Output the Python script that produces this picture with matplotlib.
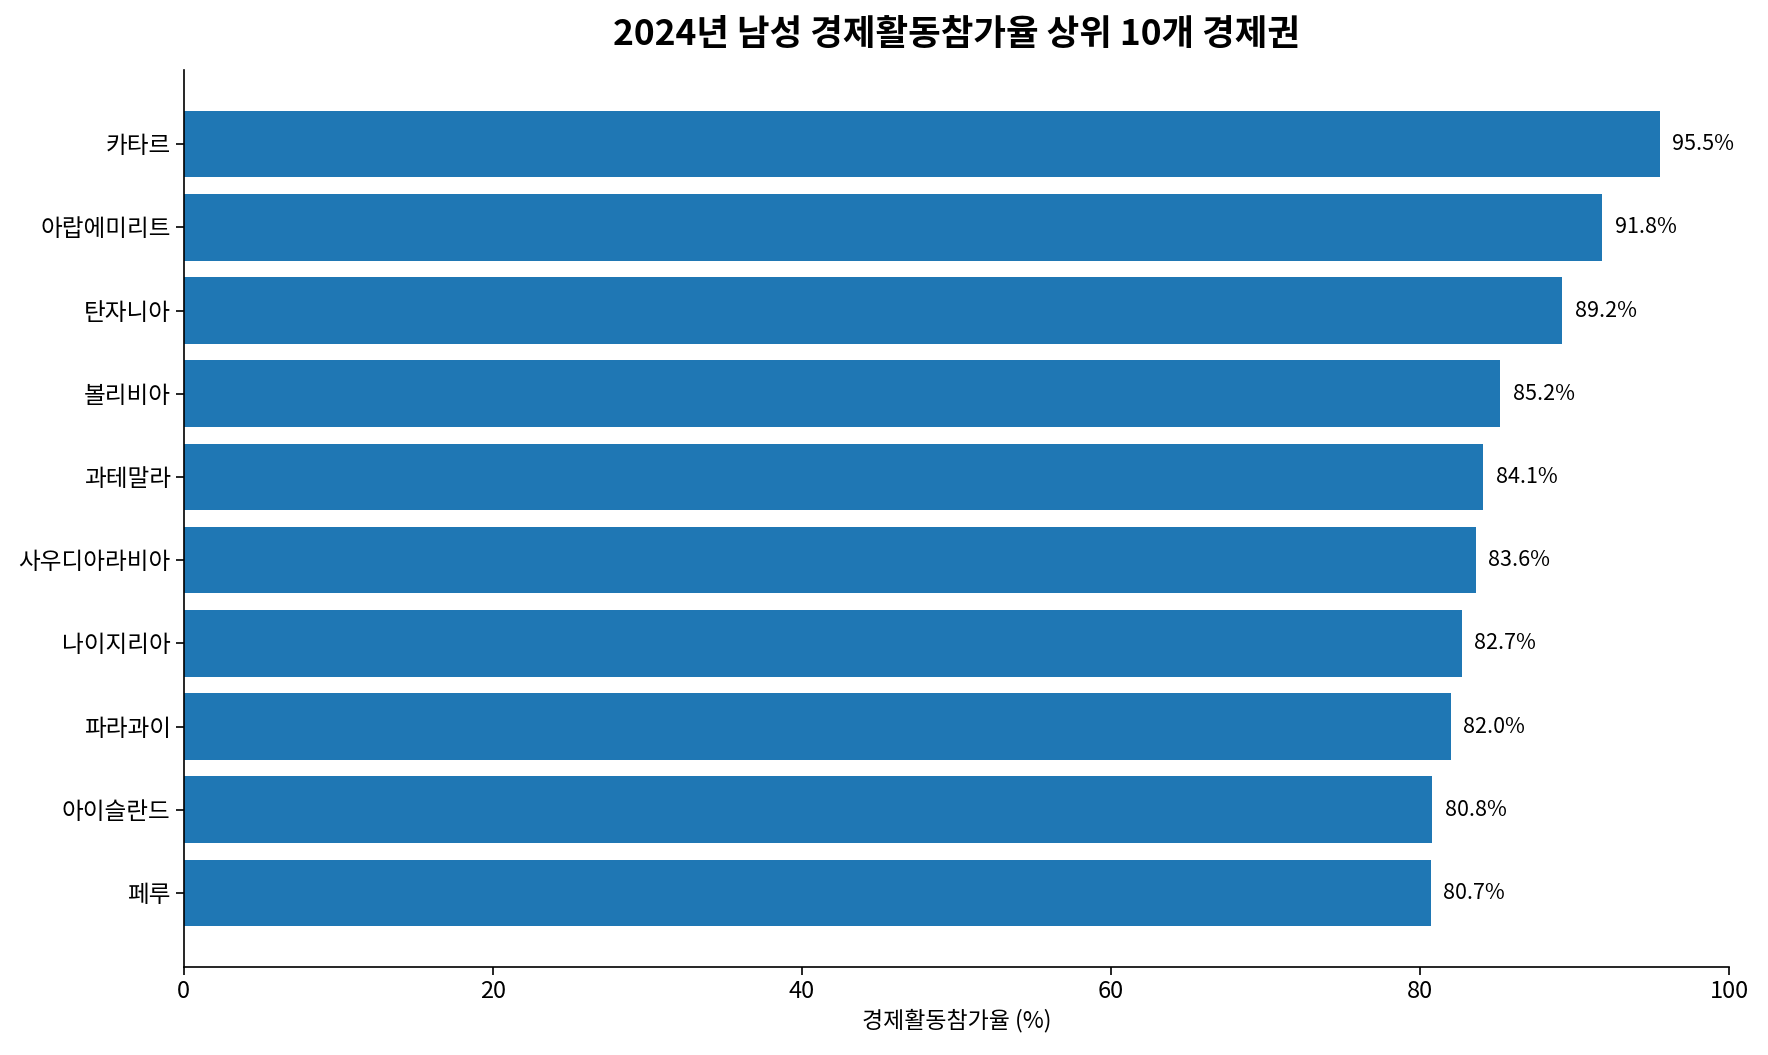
import matplotlib.pyplot as plt

plt.rcParams['font.family'] = ['Noto Sans CJK KR', 'DejaVu Sans']

countries = ['카타르', '아랍에미리트', '탄자니아', '볼리비아', '과테말라',
             '사우디아라비아', '나이지리아', '파라과이', '아이슬란드', '페루']
rates = [95.5, 91.8, 89.2, 85.2, 84.1, 83.6, 82.7, 82.0, 80.8, 80.7]

fig = plt.figure(figsize=(17.68, 10.55), dpi=100)
ax = fig.add_axes([0.104, 0.0834, 0.874, 0.8502])

y = list(range(len(countries)))
ax.barh(y, rates, color='#1f77b4', height=0.8)
ax.set_yticks(y)
ax.set_yticklabels(countries)
ax.invert_yaxis()
ax.set_xlim(0, 100)

for yi, v in zip(y, rates):
    ax.text(v + 0.8, yi, f'{v:.1f}%', va='center', ha='left', fontsize=15.5)

ax.set_title('2024년 남성 경제활동참가율 상위 10개 경제권', fontsize=25.5, fontweight='bold', pad=18)
ax.set_xlabel('경제활동참가율 (%)', fontsize=16.5)
ax.tick_params(labelsize=17, width=1.2, length=6)
for s in ['top', 'right']:
    ax.spines[s].set_visible(False)
for s in ['left', 'bottom']:
    ax.spines[s].set_linewidth(1.2)

fig.savefig('out.png', dpi=100)
